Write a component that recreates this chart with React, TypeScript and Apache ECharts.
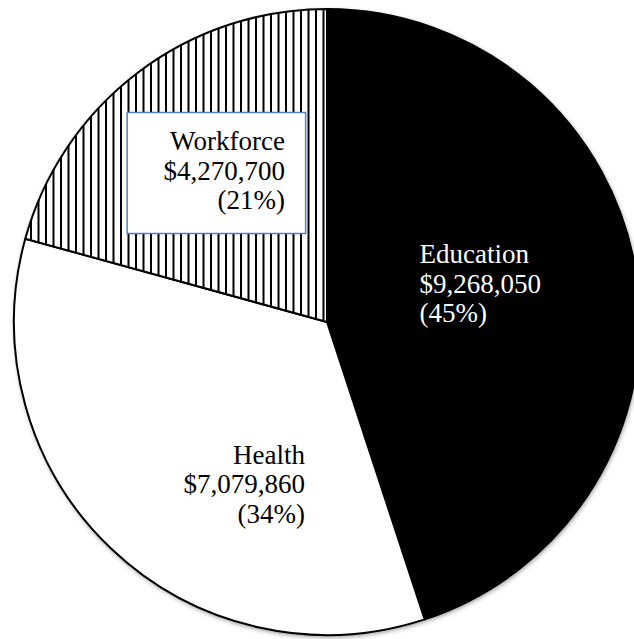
import React, { useEffect, useRef } from "react";
import * as echarts from "echarts";

const categories = ["Education", "Health", "Workforce"];
const amounts = [9268050, 7079860, 4270700];

function makeHatch(): HTMLCanvasElement {
  const c = document.createElement("canvas");
  c.width = 15;
  c.height = 15;
  const ctx = c.getContext("2d")!;
  ctx.fillStyle = "#ffffff";
  ctx.fillRect(0, 0, 15, 15);
  ctx.fillStyle = "#000000";
  ctx.fillRect(0, 0, 2, 15);
  ctx.fillRect(7.5, 0, 2, 15);
  return c;
}

export default function App() {
  const ref = useRef<HTMLDivElement>(null);

  useEffect(() => {
    if (!ref.current) return;
    const chart = echarts.init(ref.current, null, { renderer: "svg" });
    const font = "'Liberation Serif', 'Times New Roman', serif";
    const hatch = makeHatch();

    const fills: any[] = ["#000000", "#ffffff", { image: hatch, repeat: "repeat" }];
    const textColors = ["#ffffff", "#000000", "#000000"];
    const lineAlign = ["left", "right", "right"];
    const offsets = [
      [-4, -13],
      [27, 47],
      [-14, -22],
    ];

    const mainData = categories.map((name, i) => {
      const label: any = {
        color: textColors[i],
        rich: {
          t: {
            fontFamily: font,
            fontSize: 27,
            lineHeight: 29.5,
            color: textColors[i],
            width: 122,
            align: lineAlign[i],
          },
        },
      };
      if (i === 2) {
        label.backgroundColor = "#ffffff";
        label.borderColor = "#4F81BD";
        label.borderWidth = 1.5;
        label.padding = [13, 20, 18, 35];
      }
      return {
        name,
        value: amounts[i],
        itemStyle: { color: fills[i] },
        label,
      };
    });

    chart.setOption({
      animation: false,
      backgroundColor: "#ffffff",
      series: [
        {
          type: "pie",
          silent: true,
          z: 1,
          center: [327, 322],
          radius: 313,
          startAngle: 90,
          clockwise: true,
          label: { show: false },
          labelLine: { show: false },
          itemStyle: {
            color: "#ffffff",
            borderWidth: 0,
            shadowBlur: 5,
            shadowOffsetX: 1,
            shadowOffsetY: 2,
            shadowColor: "rgba(0,0,0,0.45)",
          },
          emphasis: { disabled: true },
          data: categories.map((name, i) => ({ name, value: amounts[i] })),
        },
        {
          type: "pie",
          silent: true,
          z: 2,
          center: [327, 322],
          radius: 313,
          startAngle: 90,
          clockwise: true,
          avoidLabelOverlap: false,
          emphasis: { disabled: true },
          itemStyle: { borderColor: "#000000", borderWidth: 2 },
          labelLine: { show: false },
          label: {
            show: true,
            position: "inside",
            fontFamily: font,
            fontSize: 27,
            lineHeight: 29.5,
            formatter: (p: any) =>
              [
                p.name,
                "$" + Number(p.value).toLocaleString("en-US"),
                "(" + Math.round(p.percent) + "%)",
              ]
                .map((s) => "{t|" + s + "}")
                .join("\n"),
          },
          labelLayout: (p: any) => ({
            dx: offsets[p.dataIndex][0],
            dy: offsets[p.dataIndex][1],
          }),
          data: mainData,
        },
      ],
    });

    return () => chart.dispose();
  }, []);

  return (
    <div
      ref={ref}
      style={{ position: "absolute", left: 0, top: 0, width: 634, height: 639 }}
    />
  );
}
